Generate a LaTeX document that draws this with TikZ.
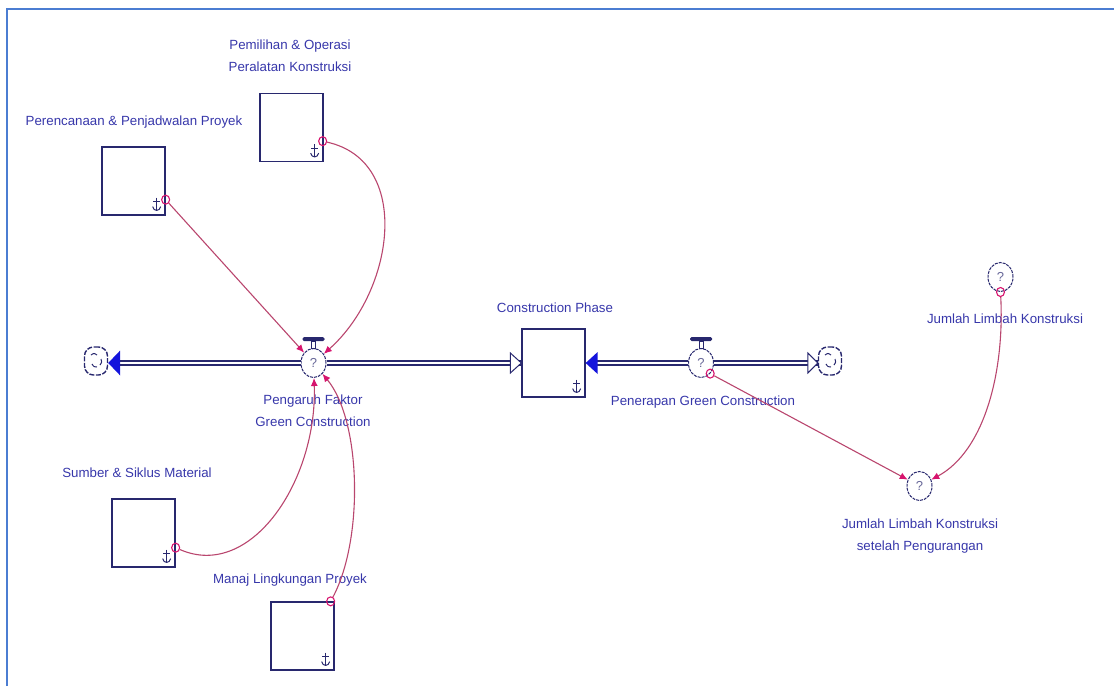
\documentclass[tikz,border=0pt]{standalone}
\usepackage{fontspec}
\setmainfont{Liberation Sans}
\usetikzlibrary{arrows.meta,shapes.geometric,calc}

\definecolor{navy}{RGB}{40,40,110}
\definecolor{lbltext}{RGB}{55,55,170}
\definecolor{pipeblue}{RGB}{20,20,220}
\definecolor{linkline}{RGB}{185,70,110}
\definecolor{linkhead}{RGB}{215,20,110}
\definecolor{framecol}{RGB}{75,125,210}

\tikzset{
  stockbox/.style={draw=navy, line width=1.3pt, minimum width=63pt, minimum height=68pt, inner sep=0pt},
  valvenode/.style={ellipse, draw=navy, line width=1pt, dash pattern=on 3pt off 1pt, fill=white,
    minimum width=25pt, minimum height=29pt, inner sep=0pt, text=navy!70,
    font=\fontsize{13}{15}\selectfont},
  cloudnode/.style={rectangle, rounded corners=9pt, draw=navy, line width=1.4pt,
    dash pattern=on 5pt off 1.5pt, minimum width=23pt, minimum height=28pt, inner sep=0pt},
  lbl/.style={text=lbltext, font=\fontsize{13.3}{22}\selectfont, align=center, inner sep=0pt},
  pipe/.style={draw=navy, line width=1.3pt, double=white, double distance=2.5pt},
  link/.style={draw=linkline, line width=1.1pt, -{Latex[length=8pt,width=7pt,color=linkhead]}},
  origin/.style={ellipse, draw=linkhead, line width=1.1pt, minimum width=8pt, minimum height=9pt, inner sep=0pt},
  anchorsym/.pic={
    \draw[navy, line width=1pt] (0,-7) -- (0,6);
    \draw[navy, line width=1pt] (-3.5,-3) -- (3.5,-3);
    \draw[navy, line width=1pt] (-4,2) .. controls (-3,7) and (3,7) .. (4,2);
  },
  cloudmarks/.pic={
    \draw[navy, line width=1pt] (-5,-6) .. controls (-2,-8) .. (1,-6);
    \draw[navy, line width=1pt] (5,-2) .. controls (6,1) .. (4,4);
    \draw[navy, line width=1pt] (-4,3) .. controls (-2,6) .. (1,6);
  }
}

\begin{document}
\begin{tikzpicture}[x=1pt,y=-1pt]
\useasboundingbox (0,0) rectangle (1114,686);

% frame
\draw[framecol, line width=2.5pt] (7,686) -- (7,9) -- (1114,9);

% stocks
\node[stockbox] (perenc) at (133.5,181) {};
\node[stockbox] (pemil) at (291.5,127.5) {};
\node[stockbox] (sumber) at (143.5,533) {};
\node[stockbox] (manaj) at (302.5,636) {};
\node[stockbox] (cphase) at (553.5,363) {};
\foreach \s in {perenc,pemil,sumber,manaj,cphase}
  \pic at ($(\s.south east)+(-9,-11)$) {anchorsym};

% clouds
\node[cloudnode] (cloudL) at (96,361) {};
\node[cloudnode] (cloudR) at (830,361) {};
\pic at (cloudL) {cloudmarks};
\pic at (cloudR) {cloudmarks};

% valves
\node[valvenode] (v1) at (313.5,363) {?};
\node[valvenode] (v2) at (701,363) {?};

% pipes
\draw[pipe] ($(cloudL.east)+(10,2)$) -- (v1.west);
\draw[pipe] (v1.east) -- (cphase.west);
\draw[pipe] ($(cphase.east)+(10,0)$) -- (v2.west);
\draw[pipe] (v2.east) -- ($(cloudR.west)+(0,2)$);

% arrowheads of the pipes
\fill[pipeblue] ($(cloudL.east)+(0,2)$) -- ++(12,-12.5) -- ++(0,25) -- cycle;
\fill[pipeblue] (cphase.east) -- ++(12,-11) -- ++(0,22) -- cycle;
\filldraw[fill=white, draw=navy, line width=1pt] (cphase.west) -- ++(-11,-10) -- ++(0,20) -- cycle;
\filldraw[fill=white, draw=navy, line width=1pt] ($(cloudR.west)+(0,2)$) -- ++(-10,-10) -- ++(0,20) -- cycle;

% valve handles
\foreach \v in {v1,v2}{
  \draw[navy, line width=1pt] ($(\v.north)+(-2,0)$) rectangle ($(\v.north)+(2,-7)$);
  \fill[navy, rounded corners=1.5pt] ($(\v.north)+(-11,-7)$) rectangle ($(\v.north)+(11,-11)$);
}

% converters
\node[valvenode] (c1) at (1000.5,277) {?};
\node[valvenode] (c2) at (919.5,486) {?};

% labels
\node[lbl] (lpemil) at (290,56) {Pemilihan \& Operasi\\Peralatan Konstruksi};
\node[lbl] (lperenc) at (134,122) {Perencanaan \& Penjadwalan Proyek};
\node[lbl] (lcp) at (555,308) {Construction Phase};
\node[lbl] (lv1) at (313,411) {Pengaruh Faktor\\Green Construction};
\node[lbl] (lv2) at (703,402) {Penerapan Green Construction};
\node[lbl] (lc1) at (1005,319) {Jumlah Limbah Konstruksi};
\node[lbl] (lc2) at (920,536) {Jumlah Limbah Konstruksi\\setelah Pengurangan};
\node[lbl] (lsum) at (137,473) {Sumber \& Siklus Material};
\node[lbl] (lman) at (290,580) {Manaj Lingkungan Proyek};

% connector origins
\node[origin] (o1) at ($(perenc.south east)+(0,-16)$) {};
\node[origin] (o2) at ($(pemil.south east)+(-1,-21)$) {};
\node[origin] (o3) at ($(sumber.south east)+(0,-20)$) {};
\node[origin] (o4) at ($(manaj.north east)+(-4,0)$) {};
\node[origin] (o5) at (v2.south east) {};
\node[origin] (o6) at (c1.south) {};

% connectors
\draw[link] (o1) -- (v1);
\draw[link] (o2) .. controls +(90,20) and +(81,-72) .. (v1);
\draw[link] (o3) .. controls +(75,33) and +(4,118) .. (v1);
\draw[link] (o4) .. controls +(33,-62) and +(48,58) .. (v1);
\draw[link] (o5) -- (c2);
\draw[link] (o6) .. controls +(4,80) and +(65,-35) .. (c2);
\end{tikzpicture}
\end{document}
